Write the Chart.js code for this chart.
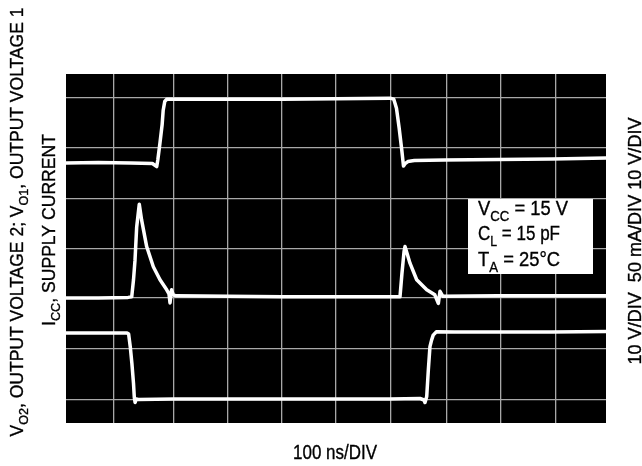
<!DOCTYPE html>
<html>
<head>
<meta charset="utf-8">
<script src="https://cdn.jsdelivr.net/npm/chart.js@4.4.1/dist/chart.umd.min.js"></script>
<style>
  html, body { margin: 0; padding: 0; background: #ffffff; }
  #c { display: block; }
</style>
</head>
<body>
<canvas id="c" width="642" height="466"></canvas>
<script>
// ---- Data (x in time divisions of 100 ns, y in screen divisions) ----
const vo1X = [0, 0.6, 1.2, 1.6, 1.68, 1.70, 1.74, 1.78, 1.80, 1.83, 1.87, 1.95, 3, 4, 5, 6.0, 6.07, 6.12, 6.17, 6.22, 6.25, 6.28, 6.33, 6.45, 7, 8, 9, 10];
const vo1Y = [4.71, 4.72, 4.71, 4.70, 4.64, 4.77, 5.11, 5.47, 5.76, 5.94, 5.98, 5.98, 5.98, 5.98, 5.99, 6.0, 5.98, 5.8, 5.4, 4.95, 4.65, 4.7, 4.74, 4.76, 4.77, 4.78, 4.79, 4.81];

const iccX = [0, 0.6, 1.15, 1.217, 1.25, 1.278, 1.309, 1.357, 1.40, 1.494, 1.617, 1.741, 1.865, 1.907, 1.926, 1.954, 1.987, 2.04, 3, 4, 5, 6.0, 6.185, 6.22, 6.26, 6.278, 6.37, 6.494, 6.68, 6.83, 6.895, 6.926, 6.98, 8, 9, 10];
const iccY = [2.03, 2.03, 2.04, 2.05, 2.39, 2.78, 3.44, 3.89, 3.58, 3.05, 2.65, 2.39, 2.19, 2.11, 1.93, 2.19, 2.09, 2.07, 2.06, 2.05, 2.05, 2.05, 2.05, 2.5, 2.95, 3.05, 2.72, 2.39, 2.19, 2.09, 1.92, 2.16, 2.06, 2.07, 2.07, 2.07];

const vo2X = [0, 0.6, 1.13, 1.16, 1.19, 1.22, 1.25, 1.265, 1.28, 1.30, 1.34, 2, 3, 4, 5, 6, 6.556, 6.63, 6.648, 6.68, 6.71, 6.74, 6.77, 6.80, 6.86, 7.2, 8, 9, 10];
const vo2Y = [1.33, 1.33, 1.33, 1.31, 1.06, 0.73, 0.33, 0.05, -0.05, 0.02, 0.01, 0.02, 0.02, 0.02, 0.02, 0.02, 0.03, 0.0, -0.05, 0.07, 0.6, 1.06, 1.19, 1.29, 1.355, 1.35, 1.35, 1.35, 1.36];

// graticule positions (as photographed)
const gridX = [0.889, 2.0, 3.0, 4.0, 5.0, 6.02, 7.05, 8.04, 9.06];
const gridY = [0, 1.03, 2.03, 3.0, 4.0, 5.01, 6.0];

const xRange = [0, 10];
const yRange = [-0.457, 6.48];

// ---- Text ----
const leftLabel1 = [{t:'V'},{t:'O2',sub:true},{t:', OUTPUT VOLTAGE 2; V'},{t:'O1',sub:true},{t:', OUTPUT VOLTAGE 1'}];
const leftLabel2 = [{t:'I'},{t:'CC',sub:true},{t:', SUPPLY CURRENT'}];
const rightLabel = [{t:'10 V/DIV  50 mA/DIV 10 V/DIV'}];
const bottomLabel = [{t:'100 ns/DIV'}];
const legendLines = [
  [{t:'V'},{t:'CC',sub:true},{t:' = 15 V'}],
  [{t:'C'},{t:'L',sub:true},{t:' = 15 pF'}],
  [{t:'T'},{t:'A',sub:true},{t:' = 25°C'}]
];

const FONT = '"Liberation Sans", Arial, Helvetica, sans-serif';

function toPts(xs, ys) { return xs.map((x, i) => ({x: x, y: ys[i]})); }

function segFont(s, size) { return (s.sub ? size * 0.72 : size) + 'px ' + FONT; }
function measureRich(ctx, segs, size) {
  let w = 0;
  for (const s of segs) { ctx.font = segFont(s, size); w += ctx.measureText(s.t).width; }
  return w;
}
function drawRich(ctx, segs, size, x, y, targetW, align, rot) {
  ctx.save();
  ctx.translate(x, y);
  if (rot) ctx.rotate(rot);
  const w = measureRich(ctx, segs, size);
  ctx.scale(targetW / w, 1);
  let cx = align === 'center' ? -w / 2 : 0;
  ctx.textAlign = 'left';
  ctx.textBaseline = 'alphabetic';
  ctx.fillStyle = '#000000';
  ctx.strokeStyle = '#000000';
  ctx.lineWidth = 0.35;
  for (const s of segs) {
    ctx.font = segFont(s, size);
    const dy = s.sub ? size * 0.28 : 0;
    ctx.fillText(s.t, cx, dy);
    ctx.strokeText(s.t, cx, dy);
    cx += ctx.measureText(s.t).width;
  }
  ctx.restore();
}

const scopePlugin = {
  id: 'scope',
  beforeDraw(chart) {
    const {ctx, chartArea: a} = chart;
    ctx.save();
    ctx.fillStyle = '#000000';
    ctx.fillRect(a.left, a.top, a.right - a.left, a.bottom - a.top);
    ctx.restore();
  },
  afterDraw(chart) {
    const ctx = chart.ctx;
    // legend box
    ctx.save();
    ctx.fillStyle = '#ffffff';
    ctx.fillRect(468, 199, 125, 75);
    ctx.restore();
    drawRich(ctx, legendLines[0], 20, 478, 215, 90, 'left', 0);
    drawRich(ctx, legendLines[1], 20, 478, 240, 82, 'left', 0);
    drawRich(ctx, legendLines[2], 20, 478, 266, 82, 'left', 0);
    // axis labels
    drawRich(ctx, bottomLabel, 20, 335, 459, 84, 'center', 0);
    drawRich(ctx, leftLabel1, 18, 23, 222, 429, 'center', -Math.PI / 2);
    drawRich(ctx, leftLabel2, 18, 55, 230, 192, 'center', -Math.PI / 2);
    drawRich(ctx, rightLabel, 18, 641, 241, 247, 'center', -Math.PI / 2);
  }
};

const traceStyle = {
  showLine: true, borderColor: '#ffffff', backgroundColor: '#ffffff',
  borderWidth: 3.5, pointRadius: 0, tension: 0, borderJoinStyle: 'round', borderCapStyle: 'round'
};

const gridOpts = { color: '#a8a8a8', lineWidth: 1.3, drawTicks: false };

new Chart(document.getElementById('c'), {
  type: 'scatter',
  data: {
    datasets: [
      Object.assign({ label: 'VO1', data: toPts(vo1X, vo1Y) }, traceStyle),
      Object.assign({ label: 'ICC', data: toPts(iccX, iccY) }, traceStyle),
      Object.assign({ label: 'VO2', data: toPts(vo2X, vo2Y) }, traceStyle)
    ]
  },
  options: {
    responsive: false,
    animation: false,
    layout: { padding: { left: 66, right: 36, top: 74, bottom: 43 } },
    plugins: { legend: { display: false }, tooltip: { enabled: false } },
    scales: {
      x: {
        type: 'linear', min: xRange[0], max: xRange[1],
        ticks: { display: false },
        grid: gridOpts,
        border: { display: false },
        afterBuildTicks: (s) => { s.ticks = gridX.map(v => ({value: v})); }
      },
      y: {
        type: 'linear', min: yRange[0], max: yRange[1],
        ticks: { display: false },
        grid: gridOpts,
        border: { display: false },
        afterBuildTicks: (s) => { s.ticks = gridY.map(v => ({value: v})); }
      }
    }
  },
  plugins: [scopePlugin]
});
</script>
</body>
</html>
